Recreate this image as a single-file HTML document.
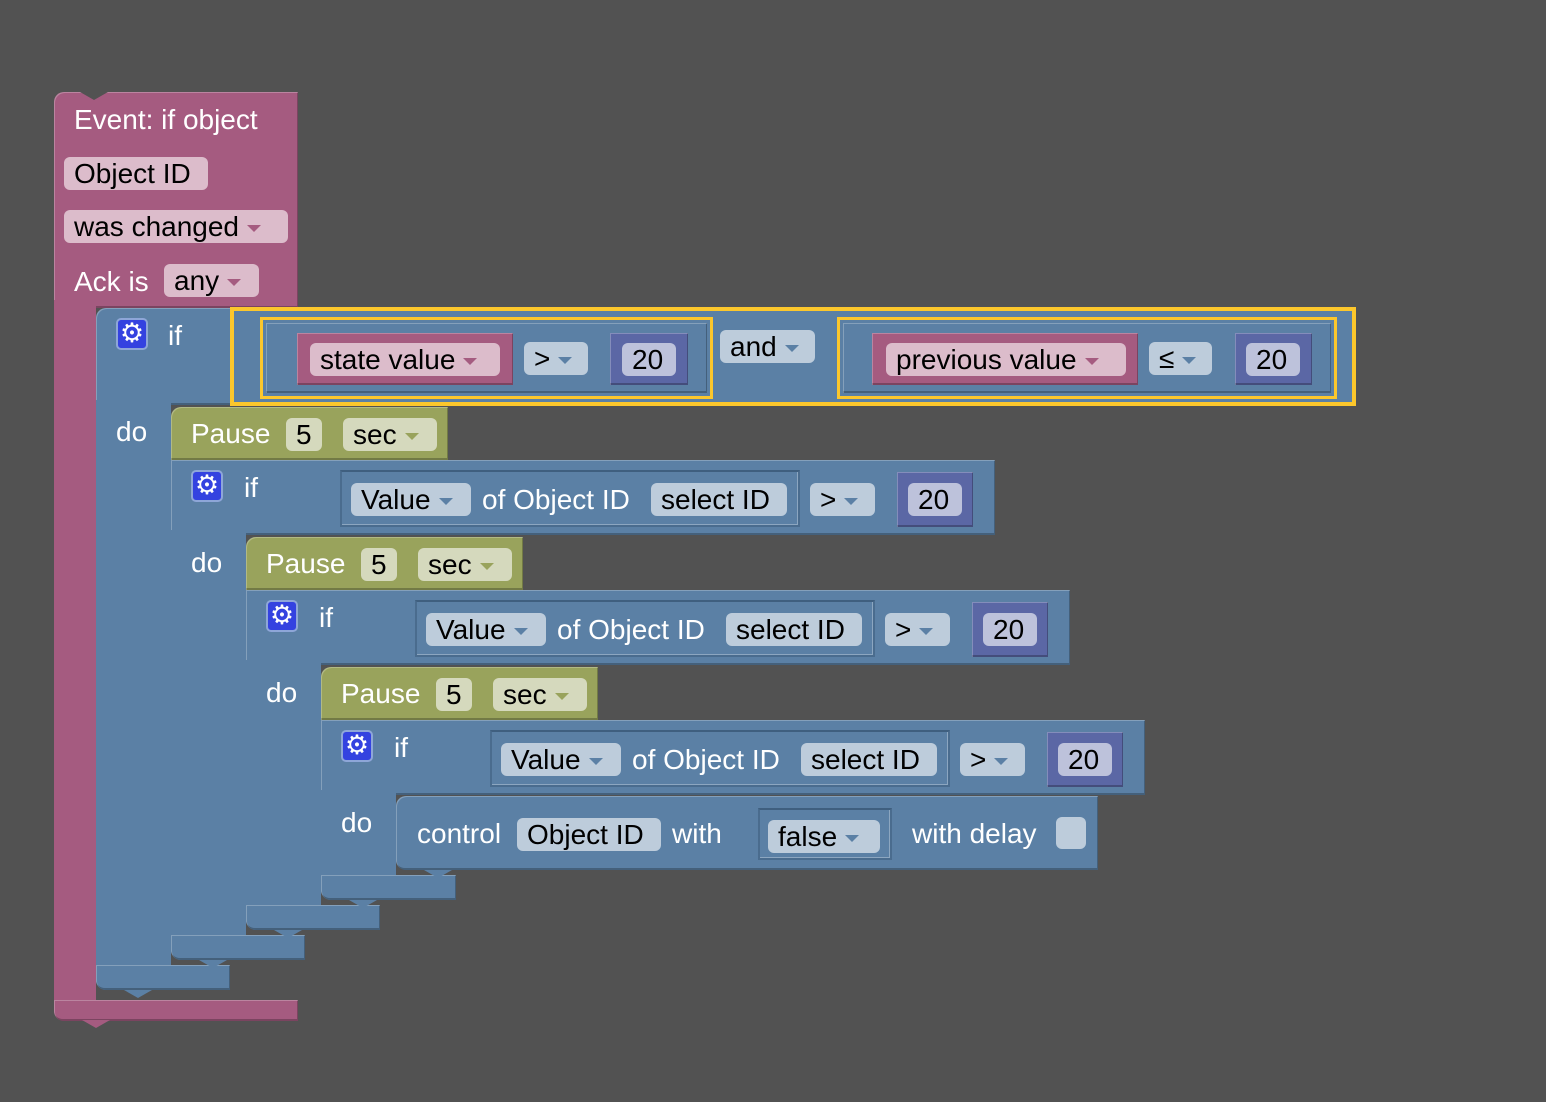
<!DOCTYPE html>
<html><head><meta charset="utf-8"><style>
html,body{margin:0;padding:0;}
body{width:1546px;height:1102px;background:#525252;position:relative;overflow:hidden;font-family:"Liberation Sans",Arial,sans-serif;}
div{position:absolute;box-sizing:border-box;}
.pk{background:#a55b80;}
.bl{background:#5b80a5;}
.ol{background:#99a35c;}
.pu{background:#5b67a5;}
.blk{box-shadow:inset 1px 1px 0 rgba(255,255,255,.25),inset -1px -2px 0 rgba(0,0,0,.25);}
.inb{border:2px solid #4a6c8e;border-top-color:#3f5f7f;box-shadow:inset -1px -1px 0 rgba(255,255,255,.3);}
.t{color:#fff;font-size:28px;height:36px;line-height:36px;white-space:nowrap;}
.p{font-size:28px;color:#000;border-radius:6px;height:33px;line-height:33px;padding-left:10px;white-space:nowrap;}
.fp{background:#dcbccb;}
.fb{background:#bdccdb;}
.fo{background:#d5d9bd;}
.fu{background:#bdc2db;}
.ar{display:inline-block;width:0;height:0;border-left:7px solid transparent;border-right:7px solid transparent;border-top:7px solid #5b80a5;margin-left:8px;vertical-align:middle;}
.fp .ar{border-top-color:#a55b80;}
.fo .ar{border-top-color:#99a35c;}
.gear{width:32px;height:32px;background:#3442e0;border:2px solid #8ea6d8;border-radius:5px;color:#fff;font-family:"DejaVu Sans",sans-serif;font-size:27px;line-height:27px;text-align:center;}
.y{border:4px solid #fcc72c;}
.y3{border:3px solid #fcc72c;}
</style></head><body>

<!-- Event block -->
<div class="pk blk" style="left:54px;top:92px;width:244px;height:216px;border-radius:10px 0 0 0;"></div>
<div style="left:80px;top:92px;width:0;height:0;border-left:14px solid transparent;border-right:14px solid transparent;border-top:8px solid #525252;"></div>
<div class="pk" style="left:54px;top:300px;width:42px;height:720px;border-radius:0 0 0 10px;"></div>
<div class="pk blk" style="left:54px;top:1000px;width:244px;height:21px;border-radius:0 0 0 10px;"></div>
<div style="left:82px;top:1020px;width:0;height:0;border-left:14px solid transparent;border-right:14px solid transparent;border-top:8px solid #a55b80;"></div>
<div class="t" style="left:74px;top:102px;">Event: if object</div>
<div class="p fp" style="left:64px;top:157px;width:144px;">Object ID</div>
<div class="p fp" style="left:64px;top:210px;width:224px;">was changed<span class="ar"></span></div>
<div class="t" style="left:74px;top:264px;">Ack is</div>
<div class="p fp" style="left:164px;top:264px;width:95px;">any<span class="ar"></span></div>

<!-- If1 -->
<div class="bl blk" style="left:96px;top:308px;width:138px;height:97px;border-radius:10px 0 0 0;"></div>
<div class="bl" style="left:96px;top:400px;width:75px;height:590px;border-radius:0 0 0 10px;"></div>
<div class="bl blk" style="left:96px;top:965px;width:134px;height:25px;border-radius:0 0 0 10px;"></div>
<div style="left:124px;top:990px;width:0;height:0;border-left:14px solid transparent;border-right:14px solid transparent;border-top:8px solid #5b80a5;"></div>
<div class="gear" style="left:116px;top:318px;">⚙</div>
<div class="t" style="left:168px;top:318px;">if</div>
<div class="t" style="left:116px;top:414px;">do</div>

<!-- main condition -->
<div class="bl y" style="left:230px;top:307px;width:1126px;height:99px;"></div>
<div class="y3" style="left:260px;top:317px;width:453px;height:82px;"></div>
<div class="bl blk" style="left:266px;top:323px;width:441px;height:70px;"></div>
<div class="pk blk" style="left:297px;top:333px;width:216px;height:52px;"></div>
<div class="p fp" style="left:310px;top:343px;width:190px;">state value<span class="ar"></span></div>
<div class="p fb" style="left:524px;top:342px;width:64px;">&gt;<span class="ar"></span></div>
<div class="pu blk" style="left:610px;top:333px;width:78px;height:52px;"></div>
<div class="p fu" style="left:622px;top:343px;width:54px;">20</div>
<div class="p fb" style="left:720px;top:330px;width:95px;">and<span class="ar"></span></div>
<div class="y3" style="left:837px;top:317px;width:500px;height:82px;"></div>
<div class="bl blk" style="left:843px;top:323px;width:488px;height:70px;"></div>
<div class="pk blk" style="left:872px;top:333px;width:266px;height:52px;"></div>
<div class="p fp" style="left:886px;top:343px;width:240px;">previous value<span class="ar"></span></div>
<div class="p fb" style="left:1149px;top:342px;width:63px;">≤<span class="ar"></span></div>
<div class="pu blk" style="left:1235px;top:333px;width:77px;height:52px;"></div>
<div class="p fu" style="left:1246px;top:343px;width:54px;">20</div>

<!-- Pause1 -->
<div class="ol blk" style="left:171px;top:407px;width:277px;height:53px;border-radius:10px 0 0 0;"></div>
<div class="t" style="left:191px;top:416px;">Pause</div>
<div class="p fo" style="left:286px;top:418px;width:36px;">5</div>
<div class="p fo" style="left:343px;top:418px;width:94px;">sec<span class="ar"></span></div>

<!-- If2 -->
<div class="bl blk" style="left:171px;top:460px;width:824px;height:75px;"></div>
<div class="bl" style="left:171px;top:530px;width:75px;height:430px;border-radius:0 0 0 10px;"></div>
<div class="bl blk" style="left:171px;top:935px;width:134px;height:25px;border-radius:0 0 0 10px;"></div>
<div style="left:199px;top:960px;width:0;height:0;border-left:14px solid transparent;border-right:14px solid transparent;border-top:8px solid #5b80a5;"></div>
<div class="gear" style="left:191px;top:470px;">⚙</div>
<div class="t" style="left:244px;top:470px;">if</div>
<div class="t" style="left:191px;top:545px;">do</div>
<div class="inb" style="left:340px;top:470px;width:460px;height:57px;"></div>
<div class="p fb" style="left:351px;top:483px;width:120px;">Value<span class="ar"></span></div>
<div class="t" style="left:482px;top:482px;">of Object ID</div>
<div class="p fb" style="left:651px;top:483px;width:136px;">select ID</div>
<div class="p fb" style="left:810px;top:483px;width:65px;">&gt;<span class="ar"></span></div>
<div class="pu blk" style="left:897px;top:472px;width:76px;height:55px;"></div>
<div class="p fu" style="left:908px;top:483px;width:54px;">20</div>

<!-- Pause2 -->
<div class="ol blk" style="left:246px;top:537px;width:277px;height:53px;border-radius:10px 0 0 0;"></div>
<div class="t" style="left:266px;top:546px;">Pause</div>
<div class="p fo" style="left:361px;top:548px;width:36px;">5</div>
<div class="p fo" style="left:418px;top:548px;width:94px;">sec<span class="ar"></span></div>

<!-- If3 -->
<div class="bl blk" style="left:246px;top:590px;width:824px;height:75px;"></div>
<div class="bl" style="left:246px;top:660px;width:75px;height:270px;border-radius:0 0 0 10px;"></div>
<div class="bl blk" style="left:246px;top:905px;width:134px;height:25px;border-radius:0 0 0 10px;"></div>
<div style="left:274px;top:930px;width:0;height:0;border-left:14px solid transparent;border-right:14px solid transparent;border-top:8px solid #5b80a5;"></div>
<div class="gear" style="left:266px;top:600px;">⚙</div>
<div class="t" style="left:319px;top:600px;">if</div>
<div class="t" style="left:266px;top:675px;">do</div>
<div class="inb" style="left:415px;top:600px;width:460px;height:57px;"></div>
<div class="p fb" style="left:426px;top:613px;width:120px;">Value<span class="ar"></span></div>
<div class="t" style="left:557px;top:612px;">of Object ID</div>
<div class="p fb" style="left:726px;top:613px;width:136px;">select ID</div>
<div class="p fb" style="left:885px;top:613px;width:65px;">&gt;<span class="ar"></span></div>
<div class="pu blk" style="left:972px;top:602px;width:76px;height:55px;"></div>
<div class="p fu" style="left:983px;top:613px;width:54px;">20</div>

<!-- Pause3 -->
<div class="ol blk" style="left:321px;top:667px;width:277px;height:53px;border-radius:10px 0 0 0;"></div>
<div class="t" style="left:341px;top:676px;">Pause</div>
<div class="p fo" style="left:436px;top:678px;width:36px;">5</div>
<div class="p fo" style="left:493px;top:678px;width:94px;">sec<span class="ar"></span></div>

<!-- If4 -->
<div class="bl blk" style="left:321px;top:720px;width:824px;height:75px;"></div>
<div class="bl" style="left:321px;top:790px;width:75px;height:110px;border-radius:0 0 0 10px;"></div>
<div class="bl blk" style="left:321px;top:875px;width:135px;height:25px;border-radius:0 0 0 10px;"></div>
<div style="left:349px;top:900px;width:0;height:0;border-left:14px solid transparent;border-right:14px solid transparent;border-top:8px solid #5b80a5;"></div>
<div class="gear" style="left:341px;top:730px;">⚙</div>
<div class="t" style="left:394px;top:730px;">if</div>
<div class="t" style="left:341px;top:805px;">do</div>
<div class="inb" style="left:490px;top:730px;width:460px;height:57px;"></div>
<div class="p fb" style="left:501px;top:743px;width:120px;">Value<span class="ar"></span></div>
<div class="t" style="left:632px;top:742px;">of Object ID</div>
<div class="p fb" style="left:801px;top:743px;width:136px;">select ID</div>
<div class="p fb" style="left:960px;top:743px;width:65px;">&gt;<span class="ar"></span></div>
<div class="pu blk" style="left:1047px;top:732px;width:76px;height:55px;"></div>
<div class="p fu" style="left:1058px;top:743px;width:54px;">20</div>

<!-- Control -->
<div class="bl blk" style="left:396px;top:796px;width:702px;height:74px;border-radius:10px 0 0 10px;"></div>
<div style="left:424px;top:870px;width:0;height:0;border-left:14px solid transparent;border-right:14px solid transparent;border-top:8px solid #5b80a5;"></div>
<div class="t" style="left:417px;top:816px;">control</div>
<div class="p fb" style="left:517px;top:818px;width:144px;">Object ID</div>
<div class="t" style="left:672px;top:816px;">with</div>
<div class="inb" style="left:758px;top:808px;width:134px;height:52px;"></div>
<div class="p fb" style="left:768px;top:820px;width:112px;">false<span class="ar"></span></div>
<div class="t" style="left:912px;top:816px;">with delay</div>
<div class="fb" style="left:1056px;top:817px;width:30px;height:32px;border-radius:6px;"></div>

</body></html>
